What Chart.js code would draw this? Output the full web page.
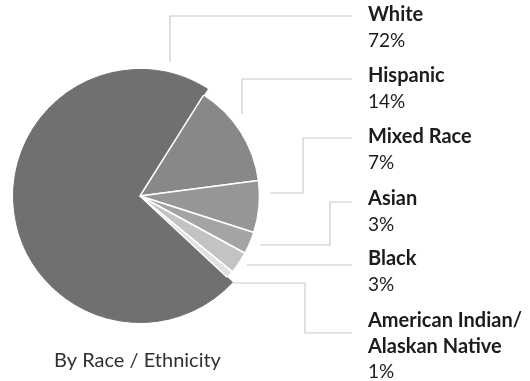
<!DOCTYPE html>
<html>
<head>
<meta charset="utf-8">
<script src="https://cdn.jsdelivr.net/npm/chart.js@4.4.1/dist/chart.umd.min.js"></script>
<style>
  html, body { margin: 0; padding: 0; background: #fff; }
  #raceChart { display: block; }
</style>
</head>
<body>
<canvas id="raceChart" width="530" height="381"></canvas>
<script>
// Share of population by race / ethnicity
const categories = ['White', 'Hispanic', 'Mixed Race', 'Asian', 'Black', 'American Indian/\nAlaskan Native'];
const shares = [72, 14, 7, 3, 3, 1];
const sliceColors = ['#707070', '#888888', '#969696', '#a4a4a4', '#c3c3c3', '#e1e1e1'];

// label block positions (baseline of the first line) and leader line routes
const labelX = 368;
const labelBaselines = [21, 82, 143, 205, 265, 327];
const lineGap = 25.5;
const leaders = [
    [[170, 62], [170, 16], [352, 16]],
    [[242, 114], [242, 79], [352, 79]],
    [[270, 193], [303, 193], [303, 138], [352, 138]],
    [[260, 245], [330, 245], [330, 202], [352, 202]],
    [[247, 265], [352, 265]],
    [[233, 283], [305, 283], [305, 333], [352, 333]]
];

const sideLabels = {
    id: 'sideLabels',
    afterDraw(chart) {
        const ctx = chart.ctx;
        ctx.save();
        ctx.strokeStyle = '#cacaca';
        ctx.lineWidth = 1.2;
        leaders.forEach(pts => {
            ctx.beginPath();
            pts.forEach((p, i) => i ? ctx.lineTo(p[0], p[1]) : ctx.moveTo(p[0], p[1]));
            ctx.stroke();
        });

        ctx.fillStyle = '#1c1c1c';
        ctx.textBaseline = 'alphabetic';
        ctx.textAlign = 'left';
        categories.forEach((name, i) => {
            let y = labelBaselines[i];
            ctx.font = 'bold 20px Lato';
            name.split('\n').forEach(l => { ctx.fillText(l, labelX, y); y += lineGap; });
            ctx.font = '19px Lato';
            ctx.fillText(shares[i] + '%', labelX, y);
        });

        ctx.fillStyle = '#303030';
        ctx.font = '20px Lato';
        ctx.textAlign = 'center';
        ctx.fillText('By Race / Ethnicity', 137.5, 367);
        ctx.restore();
    }
};

const ctx = document.getElementById('raceChart').getContext('2d');
new Chart(ctx, {
    type: 'pie',
    data: {
        labels: categories,
        datasets: [{
            // thin outer ring so the White slice sits a little proud of the rest
            data: shares,
            backgroundColor: sliceColors.map((c, i) => i === 0 ? c : 'rgba(0,0,0,0)'),
            borderColor: sliceColors.map((c, i) => i === 0 ? c : 'rgba(0,0,0,0)'),
            borderWidth: 1,
            weight: 7
        }, {
            data: shares,
            backgroundColor: sliceColors,
            borderColor: sliceColors.map((c, i) => i === 0 ? c : '#ffffff'),
            borderWidth: 1.5,
            weight: 120
        }]
    },
    options: {
        responsive: false,
        animation: false,
        events: [],
        rotation: 133,
        layout: { padding: { left: 13, top: 69, right: 263, bottom: 58 } },
        plugins: {
            legend: { display: false },
            tooltip: { enabled: false }
        }
    },
    plugins: [sideLabels]
});
</script>
</body>
</html>
